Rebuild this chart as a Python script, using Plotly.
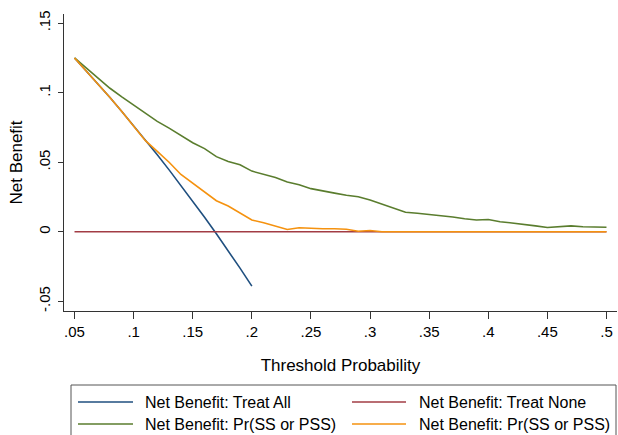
import plotly.graph_objects as go

# Threshold probabilities (0.01 steps)
thresholds = [0.05, 0.06, 0.07, 0.08, 0.09, 0.10, 0.11, 0.12, 0.13, 0.14,
              0.15, 0.16, 0.17, 0.18, 0.19, 0.20, 0.21, 0.22, 0.23, 0.24,
              0.25, 0.26, 0.27, 0.28, 0.29, 0.30, 0.31, 0.32, 0.33, 0.34,
              0.35, 0.36, 0.37, 0.38, 0.39, 0.40, 0.41, 0.42, 0.43, 0.44,
              0.45, 0.46, 0.47, 0.48, 0.49, 0.50]

# Treat all: only drawn up to 0.20
thresholds_all = [0.05, 0.06, 0.07, 0.08, 0.09, 0.10, 0.11, 0.12,
                  0.13, 0.14, 0.15, 0.16, 0.17, 0.18, 0.19, 0.20]
nb_treat_all = [0.1250, 0.1157, 0.1062, 0.0965, 0.0865, 0.0764, 0.0660, 0.0554,
                0.0445, 0.0334, 0.0221, 0.0104, -0.0015, -0.0137, -0.0262, -0.0391]

# Treat none
thresholds_none = [0.05, 0.50]
nb_treat_none = [0.0, 0.0]

# Model 1: Pr(SS or PSS) (green)
nb_model_green = [0.1250, 0.1177, 0.1104, 0.1032, 0.0970, 0.0910, 0.0855, 0.0794,
                  0.0745, 0.0692, 0.0640, 0.0598, 0.0540, 0.0505, 0.0482, 0.0436,
                  0.0415, 0.0390, 0.0358, 0.0338, 0.0310, 0.0292, 0.0278, 0.0262,
                  0.0252, 0.0228, 0.0198, 0.0168, 0.0140, 0.0133, 0.0125, 0.0117,
                  0.0106, 0.0093, 0.0084, 0.0088, 0.0072, 0.0063, 0.0054, 0.0042,
                  0.0030, 0.0035, 0.0042, 0.0036, 0.0033, 0.0032]

# Model 2: Pr(SS or PSS) (orange)
nb_model_orange = [0.1250, 0.1157, 0.1062, 0.0965, 0.0865, 0.0764, 0.0655, 0.0578,
                   0.0500, 0.0412, 0.0348, 0.0290, 0.0223, 0.0185, 0.0135, 0.0084,
                   0.0065, 0.0042, 0.0016, 0.0029, 0.0024, 0.0022, 0.0022, 0.0018,
                   0.0004, 0.0009, 0.0, 0.0, 0.0, 0.0, 0.0, 0.0, 0.0, 0.0, 0.0,
                   0.0, 0.0, 0.0, 0.0, 0.0, 0.0, 0.0, 0.0, 0.0, 0.0, 0.0]

x_tickvals = [0.05, 0.10, 0.15, 0.20, 0.25, 0.30, 0.35, 0.40, 0.45, 0.50]
x_ticktext = [".05", ".1", ".15", ".2", ".25", ".3", ".35", ".4", ".45", ".5"]
y_tickvals = [-0.05, 0.0, 0.05, 0.10, 0.15]
y_ticktext = ["-.05", "0", ".05", ".1", ".15"]

legend_labels = ["Net Benefit: Treat All", "Net Benefit: Treat None",
                 "Net Benefit: Pr(SS or PSS)", "Net Benefit: Pr(SS or PSS)"]

BLUE = "#1f4f7f"
RED = "#a23c44"
GREEN = "#5a7d2e"
ORANGE = "#f5920f"
FONT = "Liberation Sans, Arial, sans-serif"

W, H = 618, 435
L, R, T, B = 64, 617, 14, 311


def px(xp):
    return (xp - L) / (R - L)


def py(yp):
    return (B - yp) / (B - T)


fig = go.Figure()
fig.add_trace(go.Scatter(x=thresholds_all, y=nb_treat_all, mode="lines",
                         line=dict(color=BLUE, width=1.6), name=legend_labels[0]))
fig.add_trace(go.Scatter(x=thresholds_none, y=nb_treat_none, mode="lines",
                         line=dict(color=RED, width=1.6), name=legend_labels[1]))
fig.add_trace(go.Scatter(x=thresholds, y=nb_model_green, mode="lines",
                         line=dict(color=GREEN, width=1.6), name=legend_labels[2]))
fig.add_trace(go.Scatter(x=thresholds, y=nb_model_orange, mode="lines",
                         line=dict(color=ORANGE, width=1.6), name=legend_labels[3]))

# Boxed legend below the plot, two columns
shapes = [dict(type="rect", xref="paper", yref="paper",
               x0=px(71), x1=px(616), y0=py(385), y1=py(450),
               line=dict(color="#555555", width=1), fillcolor="rgba(0,0,0,0)")]
annotations = []
legend_items = [
    (legend_labels[0], BLUE, 78, 133, 143, 402),
    (legend_labels[1], RED, 352, 406, 417, 402),
    (legend_labels[2], GREEN, 78, 133, 143, 424),
    (legend_labels[3], ORANGE, 352, 406, 417, 424),
]
for text, color, lx0, lx1, tx, ly in legend_items:
    shapes.append(dict(type="line", xref="paper", yref="paper",
                       x0=px(lx0), x1=px(lx1), y0=py(ly), y1=py(ly),
                       line=dict(color=color, width=1.6)))
    annotations.append(dict(text=text, xref="paper", yref="paper",
                            x=px(tx), y=py(ly), xanchor="left", yanchor="middle",
                            showarrow=False,
                            font=dict(family=FONT, size=16, color="#000000")))

fig.update_layout(
    width=W, height=H, autosize=False,
    margin=dict(l=L, r=W - R, t=T, b=H - B, pad=0),
    paper_bgcolor="white", plot_bgcolor="white",
    showlegend=False,
    font=dict(family=FONT, color="#000000"),
    shapes=shapes, annotations=annotations,
)
fig.update_xaxes(
    range=[0.0411, 0.5089], tickvals=x_tickvals, ticktext=x_ticktext,
    showgrid=False, zeroline=False, showline=True, linecolor="#333333", linewidth=1,
    ticks="outside", ticklen=7, tickcolor="#333333", tickwidth=1,
    tickfont=dict(family=FONT, size=15),
    title=dict(text="Threshold Probability", font=dict(family=FONT, size=17), standoff=20),
)
fig.update_yaxes(
    range=[-0.057, 0.1566], tickvals=y_tickvals, ticktext=y_ticktext,
    showgrid=False, zeroline=False, showline=True, linecolor="#333333", linewidth=1,
    ticks="outside", ticklen=5, tickcolor="#333333", tickwidth=1, tickangle=-90,
    tickfont=dict(family=FONT, size=15), ticklabelstandoff=2,
    title=dict(text="Net Benefit", font=dict(family=FONT, size=17), standoff=9),
)

fig.write_html("out.html")
